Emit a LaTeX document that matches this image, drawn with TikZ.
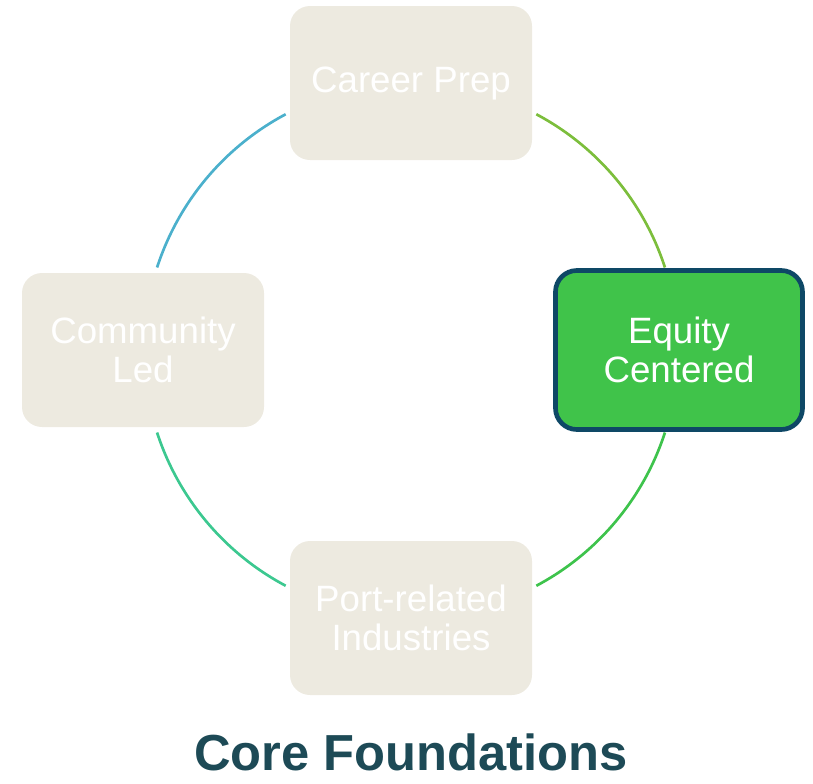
\documentclass[tikz,border=0pt]{standalone}
\usepackage{fontspec}
\setmainfont{Liberation Sans}
\usepackage{tikz}
\usetikzlibrary{positioning}
\definecolor{pillarbeige}{HTML}{EDEAE0}
\definecolor{equitygreen}{HTML}{40C34A}
\definecolor{equitynavy}{HTML}{0E4866}
\definecolor{ringblue}{HTML}{4BB0CC}
\definecolor{ringlime}{HTML}{7CBE3C}
\definecolor{ringgreen}{HTML}{3EC34C}
\definecolor{ringteal}{HTML}{3CC890}
\definecolor{titleteal}{HTML}{1D4A56}
\tikzset{pillar/.style={fill=pillarbeige, rounded corners=15pt, minimum width=181.5pt, minimum height=115.5pt, text=white, font=\fontsize{27.5}{29.5}\selectfont},
         ring/.style={line width=2pt, draw=#1}}

\begin{document}
\begin{tikzpicture} [x=0.75pt, y=-0.75pt, every text node part/.style={align=center}]
        \useasboundingbox (0,0) rectangle (813,783);
        \coordinate (hub) at (411,350);
        \node[pillar] (career) at (411,83) {Career Prep};
        \node[pillar] (community) at (143,350) {Community\\Led};
        \node[pillar, fill=equitygreen, draw=equitynavy, line width=3.5pt, minimum width=185.25pt, minimum height=119.25pt, rounded corners=16pt] (equity) at (679,350) {Equity\\Centered};
        \node[pillar] (port) at (411,618) {Port-related\\Industries};
        \draw[ring=ringblue] ([shift={(-118:267)}]hub) arc[start angle=-118, end angle=-162, radius=267];
        \draw[ring=ringlime] ([shift={(-62:267)}]hub) arc[start angle=-62, end angle=-18, radius=267];
        \draw[ring=ringgreen] ([shift={(18:267)}]hub) arc[start angle=18, end angle=62, radius=267];
        \draw[ring=ringteal] ([shift={(162:267)}]hub) arc[start angle=162, end angle=118, radius=267];
        \node[text=titleteal, font=\bfseries\fontsize{38}{38}\selectfont, anchor=base, inner sep=0pt] (title) at (411,770) {Core Foundations};
    \end{tikzpicture}
\end{document}
